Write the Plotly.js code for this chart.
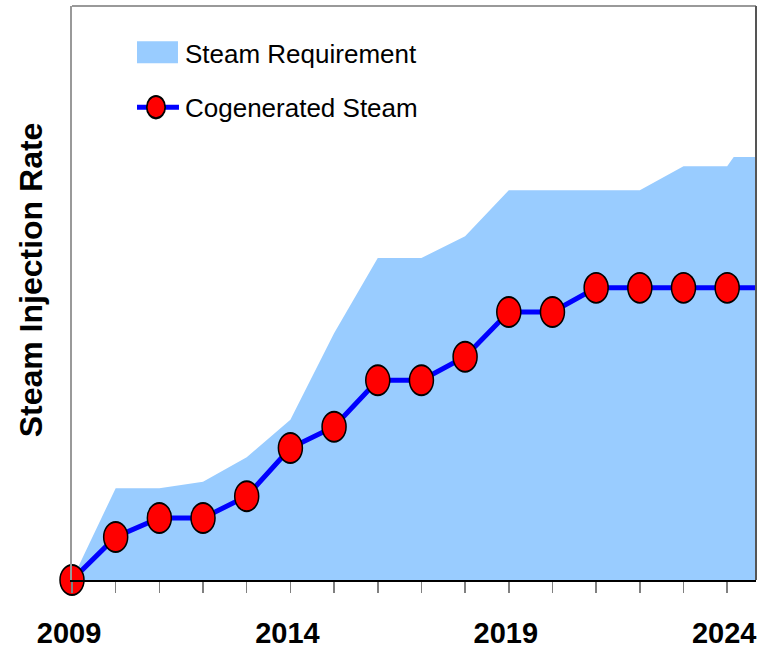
<!DOCTYPE html>
<html>
<head>
<meta charset="utf-8">
<script src="https://cdn.plot.ly/plotly-3.0.1.min.js"></script>
<style>html,body{margin:0;padding:0;background:#fff;}#chart{width:769px;height:651px;}</style>
</head>
<body>
<div id="chart"></div>
<script>
// Data (relative units, 0-100 plot height)
const reqYears = [2009, 2010, 2011, 2012, 2013, 2014, 2015, 2016, 2017, 2018, 2019, 2020, 2021, 2022, 2023, 2024, 2024.15, 2025];
const reqValues = [0, 16.0, 16.0, 17.1, 21.4, 27.9, 43.0, 56.1, 56.1, 59.9, 67.9, 67.9, 67.9, 67.9, 72.1, 72.1, 73.7, 73.7];
const cogYears = [2009, 2010, 2011, 2012, 2013, 2014, 2015, 2016, 2017, 2018, 2019, 2020, 2021, 2022, 2023, 2024, 2025];
const cogValues = [0, 7.5, 10.8, 10.8, 14.6, 23.0, 26.7, 34.8, 34.8, 38.9, 46.7, 46.7, 50.9, 50.9, 50.9, 50.9, 50.9];
const tickYears = [2009, 2010, 2011, 2012, 2013, 2014, 2015, 2016, 2017, 2018, 2019, 2020, 2021, 2022, 2023, 2024];
const tickLabels = ['2009', '', '', '', '', '2014', '', '', '', '', '2019', '', '', '', '', '2024'];

const FONT = 'Liberation Sans, Arial, sans-serif';
// marker shown for every plotted year; the last (off-chart) point only carries the line
const cogMarkerSizes = cogYears.map(function (yr) { return yr <= 2024 ? 24 : 0; });

const traces = [
  {
    x: reqYears, y: reqValues, type: 'scatter', mode: 'lines',
    name: 'Steam Requirement', fill: 'tozeroy', fillcolor: '#99CCFF',
    line: {width: 0, color: '#99CCFF'}, legendgroup: 'a'
  },
  {
    x: cogYears, y: cogValues, type: 'scatter', mode: 'lines+markers',
    name: 'Cogenerated Steam', legendgroup: 'b',
    line: {color: '#0000FF', width: 5},
    marker: {color: '#FF0000', opacity: 1, size: cogMarkerSizes, line: {color: '#000000', width: 1.5}},
    cliponaxis: false
  }
];

const layout = {
  width: 769, height: 651,
  margin: {l: 72, r: 13, t: 6, b: 71},
  paper_bgcolor: '#ffffff', plot_bgcolor: '#ffffff',
  showlegend: true,
  legend: {
    x: 0.095, y: 0.96, xanchor: 'left', yanchor: 'top',
    bgcolor: 'rgba(0,0,0,0)', traceorder: 'grouped', tracegroupgap: 18,
    itemwidth: 38,
    font: {family: FONT, size: 26, color: '#000'}
  },
  xaxis: {
    range: [2009, 2024.66], showgrid: false, zeroline: false,
    tickmode: 'array', tickvals: tickYears, ticktext: tickLabels,
    ticks: 'outside', ticklen: 11, tickwidth: 1.5, tickcolor: '#808080',
    showline: true, linecolor: '#000000', linewidth: 1.5,
    tickfont: {family: FONT, size: 29, color: '#000', weight: 'bold'},
    ticklabelstandoff: 16
  },
  yaxis: {
    range: [0, 100], showgrid: false, zeroline: false,
    showticklabels: false, ticks: '',
    showline: true, linecolor: '#999999', linewidth: 2,
    title: {text: 'Steam Injection Rate', font: {family: FONT, size: 32, color: '#000', weight: 'bold'}, standoff: 16}
  },
  shapes: [
    {type: 'line', xref: 'paper', yref: 'paper', x0: 0, x1: 1, y0: 1, y1: 1, line: {color: '#999999', width: 2}},
    {type: 'line', xref: 'paper', yref: 'paper', x0: 1, x1: 1, y0: 0, y1: 1, line: {color: '#555555', width: 2}}
  ]
};

Plotly.newPlot('chart', traces, layout, {displayModeBar: false, staticPlot: true}).then(function (gd) {
  // Stretch markers vertically into ellipses as in the original
  gd.querySelectorAll('.scatterlayer .points path.point').forEach(function (p) {
    const t = p.getAttribute('transform') || '';
    p.setAttribute('transform', t + ' scale(1,1.25)');
    p.style.opacity = 1;
  });
  // Legend symbols
  gd.querySelectorAll('.legend .legendfill path').forEach(function (f) {
    f.setAttribute('d', 'M-2,-11h43v22h-43z');
  });
  gd.querySelectorAll('.legend .legendlines path').forEach(function (l) {
    l.setAttribute('d', 'M-4,0h46');
  });
  gd.querySelectorAll('.legend .legendpoints path').forEach(function (p) {
    p.setAttribute('transform', 'translate(19,0) scale(1.15,1.4)');
    p.style.opacity = 1;
  });
  // Axis title sits a little above the plot centre in the original
  const yt = gd.querySelector('.g-ytitle');
  if (yt) yt.setAttribute('transform', 'translate(-2,-13)');
  // Year labels sit slightly left of their ticks
  gd.querySelectorAll('.xtick text').forEach(function (t) {
    const tr = t.getAttribute('transform') || '';
    t.setAttribute('transform', tr + ' translate(-3,0)');
  });
});
</script>
</body>
</html>
